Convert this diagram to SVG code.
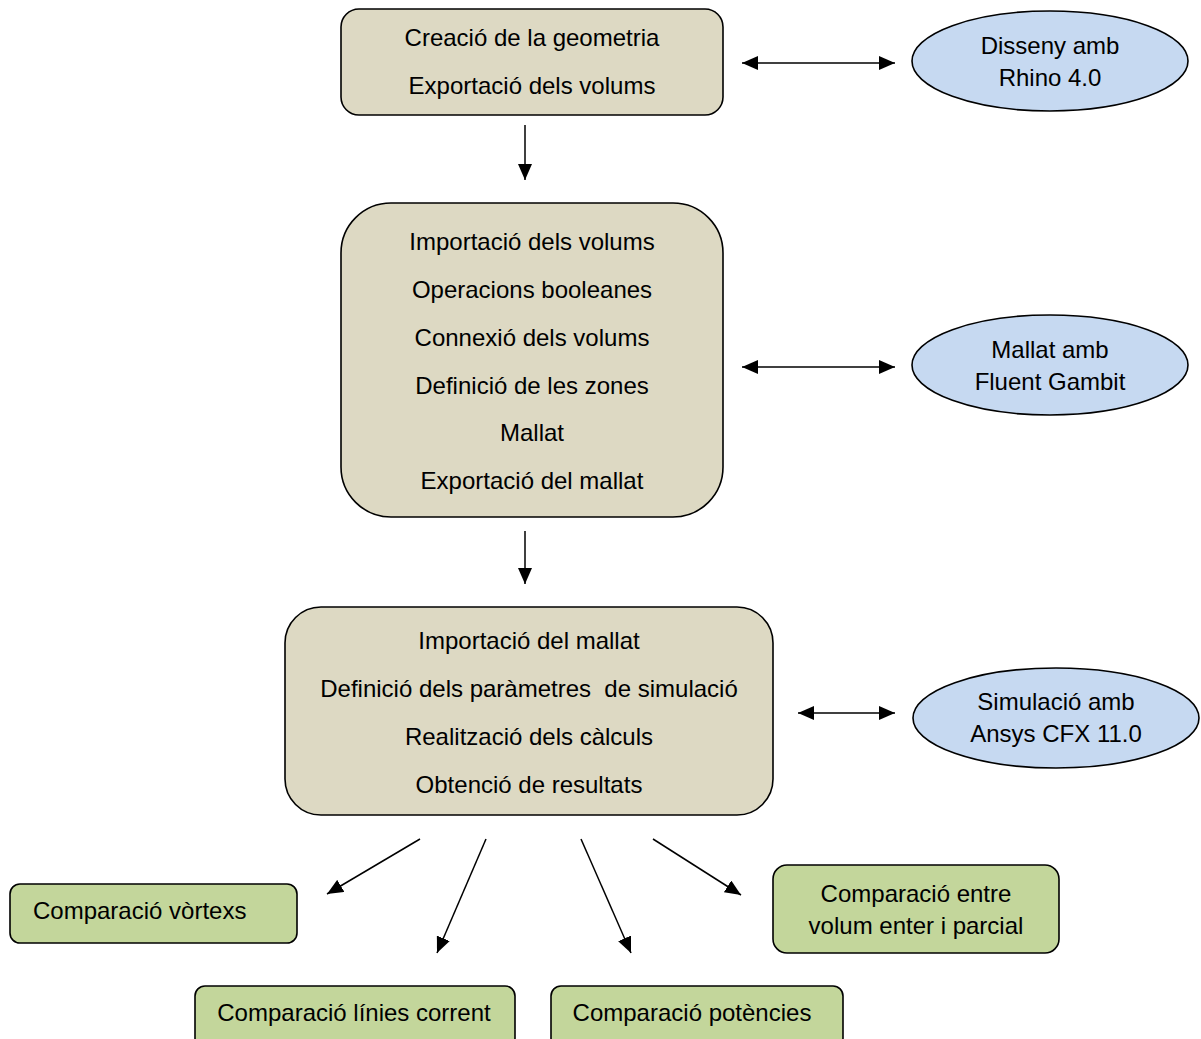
<svg xmlns="http://www.w3.org/2000/svg" width="1201" height="1039" viewBox="0 0 1201 1039">
<style>
text{font-family:"Liberation Sans",Arial,sans-serif;font-size:24px;fill:#000;text-anchor:middle}
.tan{fill:#DDD9C3;stroke:#000;stroke-width:1.6}
.blue{fill:#C6D9F1;stroke:#000;stroke-width:1.6}
.green{fill:#C3D69B;stroke:#000;stroke-width:1.6}
.c{stroke:#000;stroke-width:1.5;fill:none}
</style>
<defs>
<marker id="ah" viewBox="0 0 16 14" refX="16" refY="7" markerWidth="16" markerHeight="14" markerUnits="userSpaceOnUse" orient="auto-start-reverse">
<path d="M0,0 L16,7 L0,14 Z" fill="#000"/>
</marker>
</defs>
<rect width="1201" height="1039" fill="#fff"/>
<g id="connectors">
<line class="c" x1="525" y1="125" x2="525" y2="180" marker-end="url(#ah)"/>
<line class="c" x1="525" y1="531" x2="525" y2="584" marker-end="url(#ah)"/>
<line class="c" x1="742" y1="63" x2="895" y2="63" marker-start="url(#ah)" marker-end="url(#ah)"/>
<line class="c" x1="742" y1="367" x2="895" y2="367" marker-start="url(#ah)" marker-end="url(#ah)"/>
<line class="c" x1="798" y1="713" x2="895" y2="713" marker-start="url(#ah)" marker-end="url(#ah)"/>
<line class="c" x1="420" y1="839" x2="327" y2="894" marker-end="url(#ah)"/>
<line class="c" x1="486" y1="839" x2="437" y2="953" marker-end="url(#ah)"/>
<line class="c" x1="581" y1="839" x2="631" y2="953" marker-end="url(#ah)"/>
<line class="c" x1="653" y1="839" x2="741" y2="895" marker-end="url(#ah)"/>
</g>
<g id="n1">
<rect class="tan" x="341" y="9" width="382" height="106" rx="18"/>
<text x="532" y="46">Creació de la geometria</text>
<text x="532" y="94">Exportació dels volums</text>
</g>
<g id="n2">
<rect class="tan" x="341" y="203" width="382" height="314" rx="50"/>
<text x="532" y="250">Importació dels volums</text>
<text x="532" y="298">Operacions booleanes</text>
<text x="532" y="346">Connexió dels volums</text>
<text x="532" y="394">Definició de les zones</text>
<text x="532" y="441">Mallat</text>
<text x="532" y="489">Exportació del mallat</text>
</g>
<g id="n3">
<rect class="tan" x="285" y="607" width="488" height="208" rx="36"/>
<text x="529" y="649">Importació del mallat</text>
<text x="529" y="697" xml:space="preserve">Definició dels paràmetres  de simulació</text>
<text x="529" y="745">Realització dels càlculs</text>
<text x="529" y="793">Obtenció de resultats</text>
</g>
<g id="e1">
<ellipse class="blue" cx="1050" cy="61" rx="138" ry="50"/>
<text x="1050" y="54">Disseny amb</text>
<text x="1050" y="86">Rhino 4.0</text>
</g>
<g id="e2">
<ellipse class="blue" cx="1050" cy="365" rx="138" ry="50"/>
<text x="1050" y="358">Mallat amb</text>
<text x="1050" y="390">Fluent Gambit</text>
</g>
<g id="e3">
<ellipse class="blue" cx="1056" cy="718" rx="143" ry="50"/>
<text x="1056" y="710">Simulació amb</text>
<text x="1056" y="742">Ansys CFX 11.0</text>
</g>
<g id="g1">
<rect class="green" x="10" y="884" width="287" height="59" rx="10"/>
<text x="33" y="919" style="text-anchor:start">Comparació vòrtexs</text>
</g>
<g id="g2">
<rect class="green" x="195" y="986" width="320" height="62" rx="10"/>
<text x="354" y="1021">Comparació línies corrent</text>
</g>
<g id="g3">
<rect class="green" x="551" y="986" width="292" height="62" rx="10"/>
<text x="692" y="1021">Comparació potències</text>
</g>
<g id="g4">
<rect class="green" x="773" y="865" width="286" height="88" rx="14"/>
<text x="916" y="902">Comparació entre</text>
<text x="916" y="934">volum enter i parcial</text>
</g>
</svg>
